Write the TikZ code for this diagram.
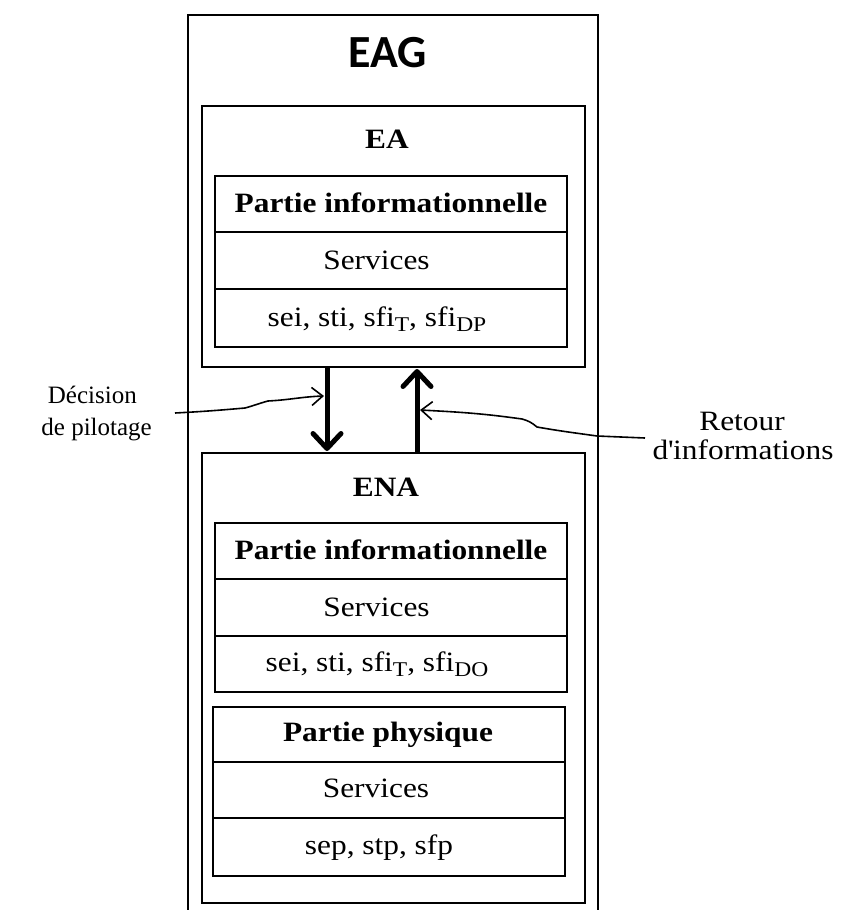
\documentclass[tikz,border=0pt]{standalone}
\usepackage{fontspec}
\setmainfont{Liberation Serif}
\newfontfamily\df{Liberation Serif}[FakeStretch=1.12]
\newfontfamily\hd{Carlito}
\usetikzlibrary{arrows.meta}
\newcommand\sbx[1]{\raisebox{-5pt}{\fontsize{21}{21}\selectfont #1}}
\begin{document}
\begin{tikzpicture}[x=1pt,y=1pt,
  box/.style={draw, line width=2.8pt, inner sep=0pt, outer sep=0pt, rectangle},
  outerbox/.style={draw, line width=2.2pt, inner sep=0pt, outer sep=0pt, rectangle},
  row/.style={draw, line width=1.8pt, inner sep=0pt, outer sep=0pt, rectangle, minimum width=352pt},
  bt/.style={font=\df\bfseries\fontsize{28}{30}\selectfont, inner sep=0pt, anchor=base},
  rt/.style={font=\df\fontsize{28}{30}\selectfont, inner sep=0pt, anchor=base},
  lab/.style={font=\fontsize{25}{30}\selectfont, inner sep=0pt},
  labR/.style={font=\df\fontsize{28}{30}\selectfont, inner sep=0pt, anchor=base},
  big/.style={line width=5pt, -{Straight Barb[length=15pt,width=28pt,line width=5pt,round]}},
  thinarr/.style={line width=1.6pt, -{Straight Barb[length=11pt,width=18pt]}},
]
\useasboundingbox (0,0) rectangle (842,-910);
\fill[white] (0,0) rectangle (842,-910);

% outer EAG box (bottom edge lies below the picture)
\node[outerbox, minimum width=410pt, minimum height=920pt] (eag) at (393,-475) {};
\node[font=\hd\bfseries\fontsize{46}{46}\selectfont, inner sep=0pt] (eagT) at (388,-53) {EAG};

% EA
\node[box, minimum width=383pt, minimum height=261pt] (ea) at (393.5,-236.5) {};
\node[bt] (eaT) at (387,-148) {EA};
\node[row, minimum height=56pt] (eaR1) at (391,-204) {};
\node[row, minimum height=57pt] (eaR2) at (391,-260.5) {};
\node[row, minimum height=58pt] (eaR3) at (391,-318) {};
\node[bt] (eaP) at (391,-212) {Partie informationnelle};
\node[rt] (eaS) at (376.5,-269) {Services};
\node[rt] (eaL) at (377,-326) {sei, sti, sfi\sbx{T}, sfi\sbx{DP}};

% ENA
\node[box, minimum width=383pt, minimum height=450pt] (ena) at (393.5,-678) {};
\node[bt] (enaT) at (386,-496) {ENA};
\node[row, minimum height=56pt] (enR1) at (391,-551) {};
\node[row, minimum height=57pt] (enR2) at (391,-607.5) {};
\node[row, minimum height=56pt] (enR3) at (391,-664) {};
\node[bt] (enP) at (391,-559) {Partie informationnelle};
\node[rt] (enS) at (376.5,-616) {Services};
\node[rt] (enL) at (377,-671) {sei, sti, sfi\sbx{T}, sfi\sbx{DO}};

\node[row, minimum height=55pt] (phR1) at (389,-734.5) {};
\node[row, minimum height=56pt] (phR2) at (389,-790) {};
\node[row, minimum height=58pt] (phR3) at (389,-847) {};
\node[bt] (phP) at (388,-741) {Partie physique};
\node[rt] (phS) at (376,-797) {Services};
\node[rt] (phL) at (379,-854) {sep, stp, sfp};

% thick arrows between EA and ENA
\coordinate (dTop) at ([xshift=-66.5pt]ea.south);
\coordinate (dBot) at ([xshift=-66.5pt,yshift=2pt]ena.north);
\coordinate (uTop) at ([xshift=23.5pt,yshift=-2pt]ea.south);
\coordinate (uBot) at ([xshift=23.5pt]ena.north);
\draw[big] (dTop) -- (dBot);
\draw[big] (uBot) -- (uTop);

% side labels
\node[lab, anchor=base east] (dec1) at (137,-403) {Décision};
\node[lab, anchor=base east] (dec2) at (152,-435) {de pilotage};
\node[labR] (ret1) at (742,-430) {Retour};
\node[labR] (ret2) at (743,-459) {d\textquotesingle informations};

% thin wavy connectors
\coordinate (dStart) at (175,-413);
\coordinate (dTip) at (324,-396);
\coordinate (rStart) at (645,-438);
\coordinate (rTip) at (420,-410);
\draw[thinarr] (dStart) to[out=3,in=185] (245,-408) to[out=15,in=195] (268,-401) to[out=3,in=182] (dTip);
\draw[thinarr] (rStart) -- (597,-436) to[out=172,in=-10] (537,-427) to[out=140,in=-15] (522,-419) to[out=172,in=-3] (rTip);
\end{tikzpicture}
\end{document}
